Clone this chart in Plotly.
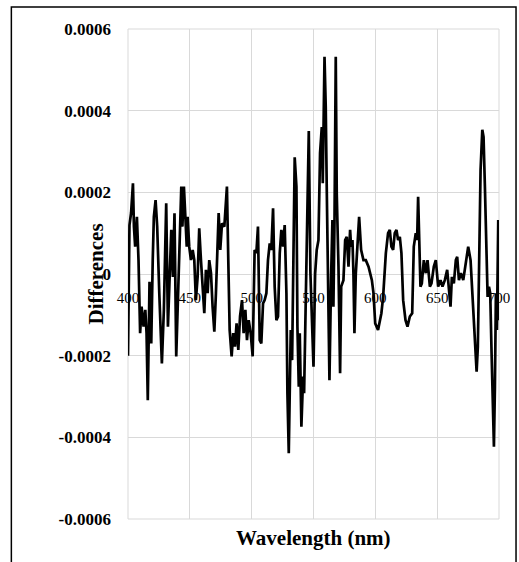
import plotly.graph_objects as go

wavelength = [
    400, 401.2, 402.5, 404, 404.8, 405.8, 407.2, 408.5, 409.8, 411, 412.6, 414, 415, 416, 417.4,
    418.8, 420, 420.9, 422.3, 423.6, 425.3, 427.4, 429, 430.9, 432.3, 433.8, 435, 436.3, 437.6,
    439, 440.3, 441.7, 443.1, 444, 445.2, 446.5, 447.5, 448.2, 449.5, 450.9, 452.3, 453.6, 454.9,
    456.3, 457.6, 459, 460.3, 461.7, 463, 464.4, 465.7, 467.1, 468.4, 469.8, 471.1, 472.5, 473.3,
    474.6, 476, 477.9, 480, 481.1, 482.2, 483.8, 485.1, 486.5, 487.8, 489.2, 490.6, 492.2, 493.5,
    494.9, 496.2, 497.6, 499.2, 500.8, 502.4, 503.8, 505.1, 506.5, 507.8, 509.2, 510.5, 511.9,
    513.2, 514.6, 515.9, 517.3, 518.6, 520, 521.3, 522.7, 524, 525.4, 526.7, 528.1, 528.9, 530,
    530.8, 531.6, 532.7, 533.5, 534.8, 536.2, 537, 538.1, 538.9, 540.2, 541.6, 542.4, 543.5,
    544.8, 546.2, 547.5, 548.9, 550, 551.3, 552.6, 554, 555.3, 556.7, 557.5, 558.9, 559.9, 560.7,
    562.1, 562.9, 564.3, 565.3, 566.1, 567, 568, 568.8, 570.2, 571.5, 572.4, 574.2, 575.6, 576.9,
    578.3, 579.6, 580.4, 581.5, 582.3, 583.1, 584.2, 585.8, 586.9, 588.5, 590.4, 592.3, 594.5,
    597.2, 598.5, 599.9, 602.2, 604.9, 606.3, 608.5, 610.3, 611.7, 613, 614.4, 615.7, 617.1,
    618.4, 619.8, 621.1, 622.5, 624.4, 626, 627.9, 629.8, 631.1, 632.7, 633.8, 634.6, 635.7,
    636.5, 637.6, 639.2, 640.8, 642.2, 644.1, 645.4, 647.3, 648.9, 650.8, 652.7, 654.3, 656.2,
    658.1, 659.7, 660.8, 661.9, 663.5, 665.1, 666.2, 667.6, 669.2, 671.1, 673.2, 675.1, 677,
    679.2, 680.8, 681.9, 682.9, 684, 685.1, 686.5, 687.5, 688.6, 689.7, 690.8, 691.9, 692.9,
    694, 695.1, 695.9, 696.7, 697.5, 698.3, 699.4, 700,
]

differences = [
    -2.0e-4, 1.2e-4, 1.5e-4, 2.22e-4, 1.16e-4, 0.67e-4, 1.4e-4, 0.34e-4, -1.45e-4, -0.8e-4, -1.29e-4, -0.88e-4, -1.45e-4, -3.09e-4, -0.19e-4,
    -1.7e-4, 0.34e-4, 1.4e-4, 1.81e-4, 1.16e-4, -0.47e-4, -2.19e-4, -0.88e-4, 1.73e-4, -1.29e-4, 0.34e-4, 1.08e-4, -0.07e-4, 1.49e-4,
    -2.02e-4, -0.47e-4, 1.0e-4, 2.14e-4, 1.16e-4, 2.14e-4, 1.32e-4, 0.67e-4, 1.4e-4, 0.67e-4, 0.34e-4, 0.59e-4, 0.34e-4, -0.64e-4,
    -0.07e-4, 1.12e-4, 0.34e-4, -0.31e-4, -0.96e-4, 0.1e-4, -0.47e-4, 0.34e-4, 0.02e-4, -0.8e-4, -1.41e-4, -0.47e-4, 1.16e-4, 1.49e-4,
    0.59e-4, 1.24e-4, 1.16e-4, 2.14e-4, 0.34e-4, -1.37e-4, -2.02e-4, -1.45e-4, -1.78e-4, -1.21e-4, -1.86e-4, -1.04e-4, -0.64e-4, -1.45e-4,
    -0.88e-4, -1.62e-4, -1.13e-4, -1.45e-4, -2.02e-4, 0.59e-4, 0.51e-4, 1.16e-4, -1.62e-4, -1.7e-4, -0.72e-4, -0.64e-4, -0.47e-4,
    0.34e-4, 0.75e-4, 0.59e-4, 1.61e-4, -0.31e-4, -1.13e-4, -1.04e-4, 0.51e-4, 1.08e-4, 0.67e-4, 1.2e-4, -0.47e-4, -2.92e-4, -4.39e-4,
    -2.92e-4, -1.37e-4, -2.11e-4, -0.47e-4, 2.86e-4, 2.14e-4, -1.29e-4, -2.76e-4, -1.45e-4, -3.74e-4, -2.51e-4, -2.92e-4, -1.13e-4,
    1.57e-4, 3.5e-4, 0.02e-4, -1.29e-4, -2.27e-4, 0.0, 0.59e-4, 0.83e-4, 2.96e-4, 3.6e-4, 2.22e-4, 5.32e-4, 4.1e-4, 2.14e-4,
    -0.64e-4, -2.6e-4, 0.0, 1.32e-4, -0.8e-4, 1.32e-4, 5.32e-4, 1.98e-4, 0.18e-4, -2.43e-4, -0.31e-4, -0.15e-4, 0.83e-4, 0.91e-4,
    0.18e-4, 1.08e-4, 0.67e-4, 0.83e-4, 0.0, -1.45e-4, 0.0, 0.83e-4, 1.4e-4, 0.59e-4, 0.34e-4, 0.34e-4, 0.18e-4,
    -0.15e-4, -0.47e-4, -1.21e-4, -1.37e-4, -0.96e-4, -0.56e-4, 0.51e-4, 1.0e-4, 1.08e-4, 0.67e-4, 0.59e-4, 1.0e-4, 1.08e-4,
    0.83e-4, 0.91e-4, 0.51e-4, -0.64e-4, -1.13e-4, -1.29e-4, -1.04e-4, -0.96e-4, 0.67e-4, 1.0e-4, 0.83e-4, 1.89e-4, 0.51e-4,
    -0.31e-4, -0.23e-4, 0.34e-4, 0.02e-4, 0.34e-4, -0.31e-4, -0.23e-4, 0.18e-4, 0.34e-4, -0.31e-4, -0.15e-4, -0.31e-4, -0.15e-4,
    0.1e-4, -0.47e-4, -0.8e-4, -0.07e-4, -0.23e-4, 0.34e-4, 0.42e-4, -0.15e-4, 0.02e-4, -0.15e-4, 0.34e-4, 0.67e-4, 0.34e-4,
    -0.88e-4, -1.94e-4, -2.39e-4, -1.78e-4, 0.51e-4, 2.55e-4, 3.53e-4, 3.36e-4, 2.14e-4, 0.51e-4, -0.56e-4, -0.31e-4, -0.47e-4,
    -1.94e-4, -3.58e-4, -4.23e-4, -2.76e-4, -0.47e-4, -1.37e-4, 1.32e-4, -1.13e-4,
]

x_range = [400, 700]
y_range = [-0.0006, 0.0006]
x_ticks = [400, 450, 500, 550, 600, 650, 700]
x_tick_labels = ["400", "450", "500", "550", "600", "650", "700"]
y_ticks = [-0.0006, -0.0004, -0.0002, 0, 0.0002, 0.0004, 0.0006]
y_tick_labels = ["-0.0006", "-0.0004", "-0.0002", "0", "0.0002", "0.0004", "0.0006"]

x_title = "Wavelength (nm)"
y_title = "Differences"

SERIF = "Liberation Serif, Times New Roman, serif"
GRID = "#d9d9d9"

fig = go.Figure()
# helper subplot (upper half) whose bottom edge sits on the zero line: carries the x tick labels
fig.add_trace(go.Scatter(x=[], y=[], xaxis="x2", yaxis="y2", showlegend=False, hoverinfo="skip"))
fig.add_trace(go.Scatter(
    x=wavelength, y=differences, mode="lines",
    xaxis="x", yaxis="y",
    line=dict(color="#000000", width=2.7),
    showlegend=False, hoverinfo="skip",
))

fig.update_layout(
    width=519, height=562,
    margin=dict(l=128, r=20, t=29, b=43, pad=0, autoexpand=False),
    paper_bgcolor="white", plot_bgcolor="rgba(0,0,0,0)",
    xaxis=dict(
        range=x_range, tickvals=x_ticks, showticklabels=False,
        showgrid=True, gridcolor=GRID, gridwidth=1,
        zeroline=False, showline=False, ticks="",
    ),
    xaxis2=dict(
        range=x_range, tickvals=x_ticks, ticktext=x_tick_labels,
        anchor="y2", side="bottom",
        showgrid=False, zeroline=False, showline=False,
        ticks="", ticklabelstandoff=13,
        tickfont=dict(family=SERIF, size=15, color="#000000"),
    ),
    yaxis=dict(
        range=y_range, tickvals=y_ticks, ticktext=y_tick_labels,
        showgrid=True, gridcolor=GRID, gridwidth=1,
        zeroline=False, showline=False,
        ticks="", ticklabelstandoff=16,
        tickfont=dict(family=SERIF, size=17, color="#000000", weight="bold"),
    ),
    yaxis2=dict(
        domain=[0.5, 1], anchor="x2", range=[0, 1],
        showgrid=False, zeroline=False, showline=False,
        showticklabels=False, ticks="",
    ),
    annotations=[
        dict(text="<b>" + y_title + "</b>", xref="paper", yref="paper",
             x=-0.085, y=0.5, textangle=-90, showarrow=False,
             font=dict(family=SERIF, size=21, color="#000000"),
             xanchor="center", yanchor="middle"),
        dict(text="<b>" + x_title + "</b>", xref="paper", yref="paper",
             x=0.5, y=-0.039, showarrow=False,
             font=dict(family=SERIF, size=21, color="#000000"),
             xanchor="center", yanchor="middle"),
    ],
    shapes=[
        dict(type="rect", xref="paper", yref="paper",
             x0=0, x1=1, y0=0, y1=1,
             line=dict(color=GRID, width=1), fillcolor="rgba(0,0,0,0)",
             layer="below"),
        dict(type="rect", xref="paper", yref="paper",
             x0=-0.3144, x1=1.0459, y0=-0.1, y1=1.0449,
             line=dict(color="#000000", width=1.5), fillcolor="rgba(0,0,0,0)",
             layer="below"),
    ],
)

fig.write_html(
    "out.html",
    config={"displayModeBar": False},
    post_script="document.body.style.margin='0';document.body.style.overflow='hidden';",
)
